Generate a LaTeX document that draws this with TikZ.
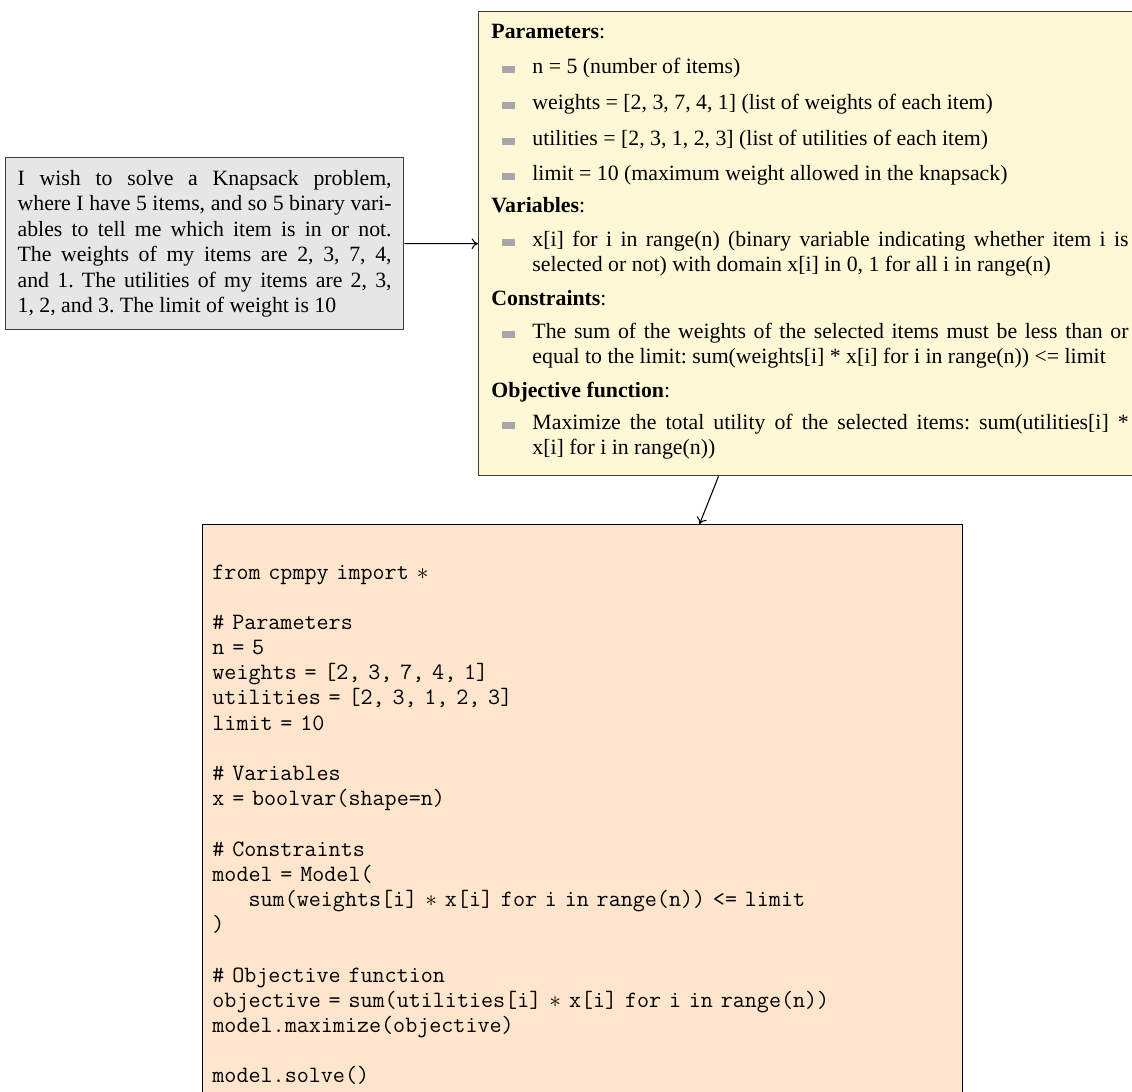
\documentclass[tikz,border=0pt]{standalone}
\usepackage{fontspec}
\setmainfont{Liberation Serif}
\usetikzlibrary{arrows.meta}
\definecolor{grayfill}{HTML}{E6E6E6}
\definecolor{yellowfill}{HTML}{FFF8D6}
\definecolor{codefill}{HTML}{FFE5CC}
\definecolor{boxline}{HTML}{3C3C3C}
\definecolor{bulgray}{HTML}{A6A6AB}
\newcommand{\itm}{\leavevmode\llap{\textcolor{bulgray}{\rule[0.2pt]{6.5pt}{3pt}}\hspace{8pt}}}
\newcommand{\cst}{\makebox[\fontcharwd\font`x]{$\ast$}}
\frenchspacing
\begin{document}
\begin{tikzpicture}[x=0.47pt,y=-0.47pt,
  every node/.style={font=\fontsize{10.25}{12}\selectfont},
  promptbox/.style={draw=boxline, line width=0.6pt, fill=grayfill, inner xsep=0pt,
    minimum width=187.06pt, minimum height=80.84pt, text width=175.8pt,
    align=justify, anchor=north west},
  specbox/.style={draw=boxline, line width=0.6pt, fill=yellowfill, inner sep=0pt,
    minimum width=312.1pt, minimum height=218.1pt, anchor=north west},
  codebox/.style={draw=black, line width=0.6pt, fill=codefill, inner sep=0pt,
    minimum width=357.2pt, minimum height=278.24pt, anchor=north west},
  head/.style={inner sep=0pt, anchor=base west},
  itemtxt/.style={inner sep=0pt, anchor=base west, text width=280.2pt, align=justify},
  codetxt/.style={inner sep=0pt, anchor=base west, text width=350pt, align=left,
    font=\ttfamily\fontsize{11}{11.84}\selectfont},
  arr/.style={-{To[length=3pt,width=5pt]}, line width=0.5pt, black}
]
\useasboundingbox (0,0) rectangle (1132,1091);
\clip (0,0) rectangle (1132,1091);

% boxes
\node[promptbox] (prompt) at (5,157)
  {\frenchspacing\tolerance=10000\hyphenpenalty=10000
   I wish to solve a Knapsack problem,\linebreak
   where I have 5 items, and so 5 binary vari-\linebreak
   ables to tell me which item is in or not.\linebreak
   The weights of my items are 2, 3, 7, 4,\linebreak
   and 1. The utilities of my items are 2, 3,\linebreak
   1, 2, and 3. The limit of weight is 10};

\node[specbox] (spec) at (478,11) {};
\node[codebox] (code) at (202,524) {};

% specification text
\node[head] (hpar) at (491,38) {\textbf{Parameters}:};
\node[itemtxt] (i1) at (532,73) {\itm n = 5 (number of items)};
\node[itemtxt] (i2) at (532,109) {\itm weights = [2, 3, 7, 4, 1] (list of weights of each item)};
\node[itemtxt] (i3) at (532,145) {\itm utilities = [2, 3, 1, 2, 3] (list of utilities of each item)};
\node[itemtxt] (i4) at (532,180) {\itm limit = 10 (maximum weight allowed in the knapsack)};
\node[head] (hvar) at (491,212) {\textbf{Variables}:};
\node[itemtxt] (i5) at (532,246) {\frenchspacing\tolerance=10000\hyphenpenalty=10000
  \itm x[i] for i in range(n) (binary variable indicating whether item i is\linebreak
  selected or not) with domain x[i] in 0, 1 for all i in range(n)};
\node[head] (hcon) at (491,305) {\textbf{Constraints}:};
\node[itemtxt] (i6) at (532,338) {\frenchspacing\tolerance=10000\hyphenpenalty=10000
  \itm The sum of the weights of the selected items must be less than or\linebreak
  equal to the limit: sum(weights[i] * x[i] for i in range(n)) <= limit};
\node[head] (hobj) at (491,397) {\textbf{Objective function}:};
\node[itemtxt] (i7) at (532,429) {\frenchspacing\tolerance=10000\hyphenpenalty=10000
  \itm Maximize the total utility of the selected items: sum(utilities[i] *\linebreak
  x[i] for i in range(n))};

% code text
\node[codetxt] (codetext) at (212,579) {from cpmpy import \cst\\
\mbox{}\\
\# Parameters\\
n = 5\\
weights = [2, 3, 7, 4, 1]\\
utilities = [2, 3, 1, 2, 3]\\
limit = 10\\
\mbox{}\\
\# Variables\\
x = boolvar(shape=n)\\
\mbox{}\\
\# Constraints\\
model = Model(\\
\hphantom{xxx}sum(weights[i] \cst{} x[i] for i in range(n)) <= limit\\
)\\
\mbox{}\\
\# Objective function\\
objective = sum(utilities[i] \cst{} x[i] for i in range(n))\\
model.maximize(objective)\\
\mbox{}\\
model.solve()};

% connectors
\draw[arr] (prompt) -- (spec);
\draw[arr] (spec) -- (code);
\end{tikzpicture}
\end{document}
